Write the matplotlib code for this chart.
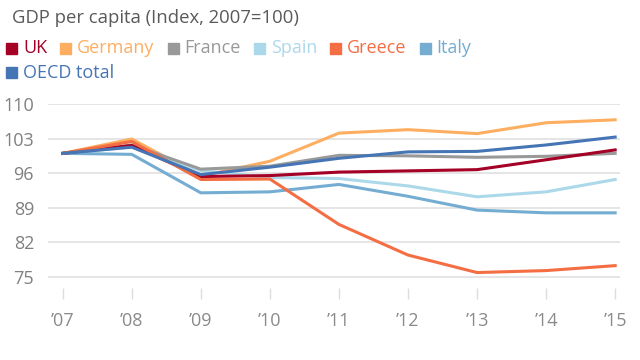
import matplotlib
matplotlib.use("Agg")
import matplotlib.pyplot as plt
from matplotlib.patches import Rectangle

plt.rcParams['font.family'] = ['Open Sans', 'DejaVu Sans']

years = ["\u201907", "\u201908", "\u201909", "\u201910", "\u201911", "\u201912", "\u201913", "\u201914", "\u201915"]
uk      = [100, 101.6, 95.3, 95.5, 96.2, 96.45, 96.7, 98.7, 100.7]
germany = [100, 102.9, 95.4, 98.4, 104.1, 104.8, 104.0, 106.2, 106.8]
france  = [100, 101.7, 96.8, 97.4, 99.6, 99.5, 99.2, 99.4, 100.0]
spain   = [100, 101.3, 96.5, 95.1, 94.9, 93.4, 91.2, 92.2, 94.7]
greece  = [100, 102.4, 94.7, 94.8, 85.6, 79.4, 75.85, 76.25, 77.25]
italy   = [100, 99.8, 92.0, 92.2, 93.7, 91.3, 88.5, 87.95, 87.95]
oecd    = [100, 101.25, 95.7, 97.2, 99.0, 100.3, 100.4, 101.7, 103.3]
yticks = [75, 82, 89, 96, 103, 110]

names = ["UK", "Germany", "France", "Spain", "Greece", "Italy", "OECD total"]
series = [uk, germany, france, spain, greece, italy, oecd]
colors = ["#a50026", "#fdae61", "#999999", "#abd9e9", "#f46d43", "#74add1", "#4575b4"]
zorders = [4, 2, 3, 2.5, 5, 3.5, 6]

fig = plt.figure(figsize=(6.4, 3.6), dpi=100)
ax = fig.add_axes([48/640, 1-288/360, (620-48)/640, (288-104)/360])
x = list(range(len(years)))
for s, c, z in zip(series, colors, zorders):
    ax.plot(x, s, color=c, lw=2.2, zorder=z, solid_joinstyle='round')

ax.set_xlim(-0.213, 8.07)
ax.set_ylim(72.72, 110)
ax.set_yticks(yticks)
ax.set_yticklabels([str(v) for v in yticks])
ax.set_xticks(x)
ax.set_xticklabels(years)
for sp in ax.spines.values():
    sp.set_visible(False)
ax.grid(axis='y', color='#e3e3e3', lw=1.3)
ax.grid(axis='x', visible=False)
ax.set_axisbelow(True)
ax.tick_params(axis='y', length=0, pad=10, labelsize=13, labelcolor='#808080')
ax.tick_params(axis='x', length=8, width=1, color='#dddddd', direction='out', pad=9,
               labelsize=13, labelcolor='#8a8a8a')

fig.text(12/640, 1-18/360, "GDP per capita (Index, 2007=100)", fontsize=13.3,
         color='#5a5a5a', va='center', ha='left')

# legend, flow layout
fig.canvas.draw()
renderer = fig.canvas.get_renderer()
xpos = 6
row_y = [48, 72.5]
row = 0
sq = 11
for name, c in zip(names, colors):
    t = fig.text(0, 0, name, fontsize=13, color=c, va='center', ha='left')
    w = t.get_window_extent(renderer).width
    if xpos + sq + 6 + w > 480:
        row += 1
        xpos = 6
    yc = row_y[row]
    fig.patches.append(Rectangle((xpos/640, 1-(yc+sq/2)/360), sq/640, sq/360,
                                 transform=fig.transFigure, color=c, figure=fig))
    t.set_position(((xpos + sq + 6)/640, 1-yc/360))
    xpos += sq + 6 + w + 13

fig.savefig("out.png", dpi=100)
